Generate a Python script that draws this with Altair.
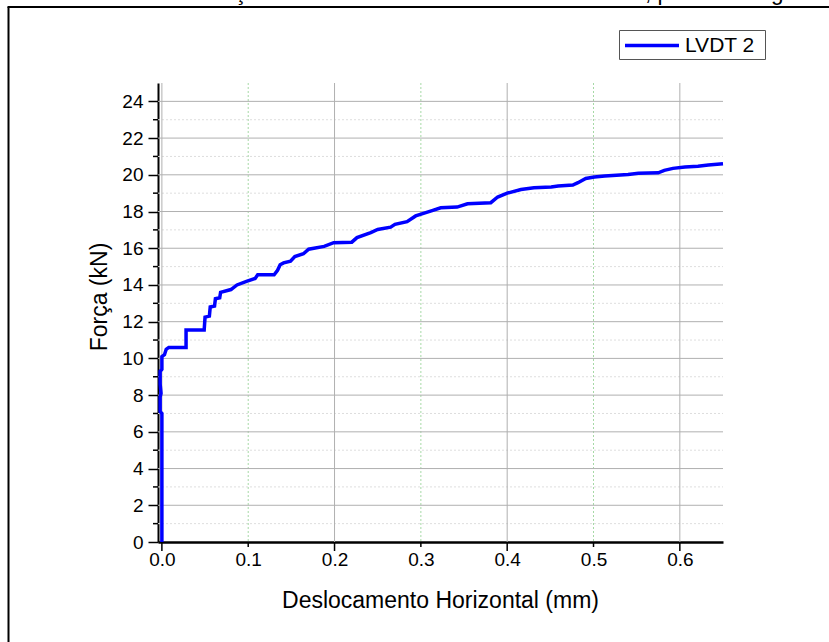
import altair as alt
import pandas as pd

# ---- data ----
disp = [0.000, 0.000, -0.002, -0.002, -0.001, -0.002, -0.002, 0.000, 0.000, 0.003,
        0.005, 0.008, 0.028, 0.028, 0.049, 0.050, 0.055, 0.056, 0.061, 0.062,
        0.067, 0.068, 0.080, 0.087, 0.098, 0.108, 0.111, 0.130, 0.134, 0.137,
        0.141, 0.149, 0.154, 0.164, 0.170, 0.188, 0.199, 0.220, 0.226, 0.242,
        0.250, 0.265, 0.270, 0.284, 0.294, 0.303, 0.313, 0.323, 0.342, 0.354,
        0.381, 0.389, 0.400, 0.416, 0.431, 0.451, 0.459, 0.476, 0.482, 0.491,
        0.501, 0.513, 0.540, 0.552, 0.575, 0.582, 0.592, 0.606, 0.621, 0.633,
        0.650]
force = [0.0, 7.0, 7.1, 7.9, 8.1, 8.6, 9.3, 9.4, 10.1, 10.2,
         10.5, 10.6, 10.6, 11.55, 11.55, 12.25, 12.3, 12.8, 12.85, 13.25,
         13.3, 13.6, 13.75, 14.0, 14.2, 14.35, 14.55, 14.55, 14.8, 15.1,
         15.2, 15.3, 15.55, 15.7, 15.95, 16.1, 16.3, 16.33, 16.58, 16.85,
         17.02, 17.15, 17.3, 17.45, 17.76, 17.9, 18.05, 18.2, 18.24, 18.42,
         18.48, 18.79, 19.0, 19.2, 19.29, 19.33, 19.39, 19.44, 19.57, 19.8,
         19.88, 19.93, 20.02, 20.08, 20.11, 20.24, 20.35, 20.42, 20.47, 20.53,
         20.6]
series_name = "LVDT 2"

x_tick_labels = [0.0, 0.1, 0.2, 0.3, 0.4, 0.5, 0.6]
x_major_grid = [0.0, 0.2, 0.4, 0.6]
x_minor_grid = [0.1, 0.3, 0.5]
y_major = [0, 2, 4, 6, 8, 10, 12, 14, 16, 18, 20, 22, 24]
y_major_grid = [2, 4, 6, 8, 10, 12, 14, 16, 18, 20, 22, 24]
y_minor = [1, 3, 5, 7, 9, 11, 13, 15, 17, 19, 21, 23]

x_title = "Deslocamento Horizontal (mm)"
y_title = "Força (kN)"
top_title = "Curva Força x Deslocamento Horizontal do LVDT 2, para a 2ª viga"

FONT = "Liberation Sans"
XDOM = [-0.0045, 0.65]
YDOM = [0, 25]

xs = alt.Scale(domain=XDOM, nice=False, zero=False)
ys = alt.Scale(domain=YDOM, nice=False)

df = pd.DataFrame({"i": range(len(disp)), "d": disp, "f": force})
one = pd.DataFrame({"a": [0]})


def yv():
    return alt.Y("v:Q", scale=ys, axis=None)


def xv():
    return alt.X("v:Q", scale=xs, axis=None)


# grid lines
g_ymaj = alt.Chart(pd.DataFrame({"v": y_major_grid})).mark_rule(
    color="#b0b0b0", strokeWidth=1).encode(
    y=yv(), x=alt.value(0), x2=alt.value(565))
g_ymin = alt.Chart(pd.DataFrame({"v": y_minor})).mark_rule(
    color="#dedede", strokeWidth=1, strokeDash=[2, 2]).encode(
    y=yv(), x=alt.value(0), x2=alt.value(565))
g_xmaj = alt.Chart(pd.DataFrame({"v": x_major_grid})).mark_rule(
    color="#b0b0b0", strokeWidth=1).encode(
    x=xv(), y=alt.value(0), y2=alt.value(459))
g_xmin = alt.Chart(pd.DataFrame({"v": x_minor_grid})).mark_rule(
    color="#a6d9a6", strokeWidth=1, strokeDash=[2, 2]).encode(
    x=xv(), y=alt.value(0), y2=alt.value(459))

# the curve, carrying the axes
curve = alt.Chart(df).mark_line(color="#0000ff", strokeWidth=3.5,
                                strokeJoin="miter", clip=False).encode(
    x=alt.X("d:Q", scale=xs,
            axis=alt.Axis(values=x_tick_labels, format=".1f", ticks=False,
                          grid=False, title=None, labelFont=FONT,
                          labelFontSize=19, labelColor="black",
                          labelPadding=8, domainColor="black",
                          domainWidth=2.5, labelFlush=False,
                          labelOverlap=False)),
    y=alt.Y("f:Q", scale=ys,
            axis=alt.Axis(values=y_major, format="d", tickSize=10,
                          tickWidth=1.5, tickColor="black", grid=False,
                          title=None, labelFont=FONT, labelFontSize=19,
                          labelColor="black", labelPadding=5,
                          domainColor="black", domainWidth=2,
                          labelFlush=False, labelOverlap=False)),
    order="i:Q")

# minor / extra ticks
t_ymin = alt.Chart(pd.DataFrame({"v": y_minor})).mark_rule(
    color="black", strokeWidth=1.5).encode(
    y=yv(), x=alt.value(-5), x2=alt.value(0))
t_xmaj = alt.Chart(pd.DataFrame({"v": x_major_grid})).mark_rule(
    color="black", strokeWidth=1.5).encode(
    x=xv(), y=alt.value(459), y2=alt.value(468))
t_xmin = alt.Chart(pd.DataFrame({"v": x_minor_grid})).mark_rule(
    color="black", strokeWidth=1.5).encode(
    x=xv(), y=alt.value(459), y2=alt.value(464))

# axis titles
xt = alt.Chart(one).mark_text(font=FONT, fontSize=23, color="black",
                              align="center", baseline="middle").encode(
    x=alt.value(282.5), y=alt.value(518), text=alt.value(x_title))
yt = alt.Chart(one).mark_text(font=FONT, fontSize=23, color="black",
                              align="center", baseline="middle",
                              angle=270).encode(
    x=alt.value(-58), y=alt.value(214), text=alt.value(y_title))

# legend
leg_box = alt.Chart(one).mark_rect(fill="white", stroke="#555555",
                                   strokeWidth=1).encode(
    x=alt.value(461.5), x2=alt.value(607.5), y=alt.value(-52.5),
    y2=alt.value(-23.5))
leg_line = alt.Chart(one).mark_rule(color="#0000ff", strokeWidth=3.5).encode(
    x=alt.value(467), x2=alt.value(521), y=alt.value(-37.5))
leg_text = alt.Chart(one).mark_text(font=FONT, fontSize=21, color="black",
                                    align="left", baseline="middle").encode(
    x=alt.value(527), y=alt.value(-37), text=alt.value(series_name))

# outer frame and clipped page title
frame_l = alt.Chart(one).mark_rule(color="black", strokeWidth=2).encode(
    x=alt.value(-149.5), y=alt.value(-76), y2=alt.value(600))
frame_t = alt.Chart(one).mark_rule(color="black", strokeWidth=2).encode(
    x=alt.value(-150.5), x2=alt.value(700), y=alt.value(-76))
ttl = alt.Chart(one).mark_text(font=FONT, fontSize=22.5, color="black",
                               align="left", baseline="alphabetic").encode(
    x=alt.value(-23.6), y=alt.value(-83.5), text=alt.value(top_title))

chart = alt.layer(
    g_ymin, g_xmin, g_ymaj, g_xmaj, curve, t_ymin, t_xmaj,
    t_xmin, xt, yt, leg_box, leg_line, leg_text, frame_l, frame_t, ttl
).resolve_axis(
    x="independent", y="independent"
).properties(
    width=565, height=459,
    autosize=alt.AutoSizeParams(type="none"),
    padding={"left": 158, "top": 83, "right": 106, "bottom": 100},
    background="white"
).configure_view(stroke=None)

chart.save("out.html", embed_options={"renderer": "svg", "actions": False})
